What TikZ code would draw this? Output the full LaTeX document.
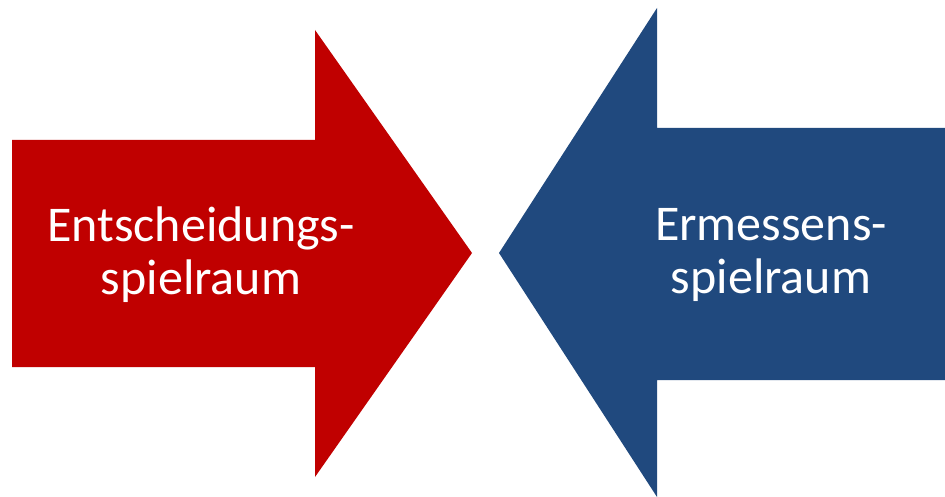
\documentclass[tikz,border=0pt]{standalone}
\usepackage{fontspec}
\setmainfont{Carlito}
\definecolor{arrowred}{RGB}{192,0,0}
\definecolor{arrowblue}{RGB}{32,73,126}
\tikzset{
  arrowlabel/.style={text=white, align=center, font=\fontsize{50}{53}\selectfont, inner sep=0pt}
}
\begin{document}
\begin{tikzpicture}[x=1pt,y=-1pt]
  \useasboundingbox (0,0) rectangle (945,497);
  % red arrow pointing right
  \fill[arrowred] (12,140) -- (315,140) -- (315,30) -- (472,253) -- (315,477) -- (315,367) -- (12,367) -- cycle;
  % blue arrow pointing left
  \fill[arrowblue] (945,128) -- (657,128) -- (657,8) -- (499,253) -- (657,497) -- (657,380) -- (945,380) -- cycle;
  \node[arrowlabel] (red) at (201,255) {Entscheidungs-\\spielraum};
  \node[arrowlabel] (blue) at (771,255) {Ermessens-\\spielraum};
\end{tikzpicture}
\end{document}
